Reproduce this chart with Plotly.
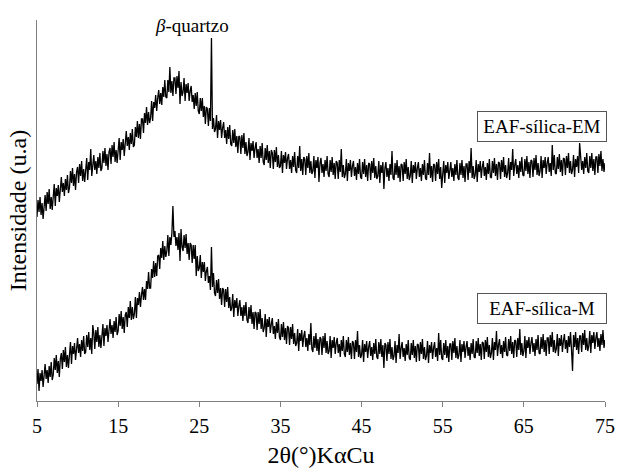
import plotly.graph_objects as go

# 2theta grid (degrees), step 0.125 from 5 to 75
two_theta = [5 + 0.125 * i for i in range(561)]

# EAF-sílica-EM (upper pattern), arbitrary intensity units; one row per degree
em_counts = [
    184, 201, 189, 204, 186, 198, 182, 200,   # 5
    206, 190, 209, 197, 212, 192, 204, 191,   # 6
    202, 217, 195, 213, 205, 216, 199, 210,   # 7
    224, 209, 218, 205, 222, 211, 226, 208,   # 8
    213, 230, 218, 233, 215, 227, 211, 229,   # 9
    234, 218, 237, 225, 240, 220, 232, 219,   # 10
    228, 243, 221, 239, 231, 252, 225, 236,   # 11
    246, 231, 240, 227, 244, 233, 248, 230,   # 12
    233, 250, 238, 253, 235, 247, 231, 249,   # 13
    253, 237, 256, 244, 259, 239, 251, 238,   # 14
    248, 263, 241, 259, 251, 262, 245, 256,   # 15
    270, 255, 264, 251, 268, 257, 272, 254,   # 16
    256, 274, 264, 280, 263, 277, 262, 282,   # 17
    282, 268, 288, 278, 294, 276, 289, 278,   # 18
    283, 300, 280, 299, 293, 306, 290, 303,   # 19
    311, 297, 308, 296, 314, 304, 321, 304,   # 20
    303, 321, 309, 334, 308, 320, 305, 323,   # 21
    323, 307, 325, 313, 330, 297, 319, 305,   # 22
    309, 323, 300, 317, 308, 318, 300, 310,   # 23
    315, 299, 306, 292, 308, 295, 309, 290,   # 24
    287, 303, 290, 303, 284, 295, 277, 294,   # 25
    292, 275, 293, 280, 363, 272, 283, 269,   # 26 (beta-quartz line)
    272, 286, 263, 280, 271, 281, 263, 273,   # 27
    279, 263, 271, 257, 274, 262, 276, 257,   # 28
    255, 271, 258, 272, 254, 265, 248, 265,   # 29
    264, 247, 266, 253, 268, 247, 259, 245,   # 30
    249, 263, 241, 258, 250, 260, 243, 253,   # 31
    259, 243, 252, 238, 255, 243, 258, 239,   # 32
    236, 253, 241, 256, 238, 250, 233, 251,   # 33
    248, 232, 251, 239, 254, 234, 246, 233,   # 34
    235, 250, 228, 246, 238, 249, 232, 243,   # 35
    247, 232, 241, 228, 245, 234, 249, 231,   # 36
    228, 245, 233, 255, 230, 242, 226, 244,   # 37
    242, 226, 245, 233, 248, 228, 240, 227,   # 38
    230, 245, 223, 241, 233, 244, 219, 238,   # 39
    243, 228, 237, 224, 241, 230, 245, 227,   # 40
    224, 241, 229, 244, 226, 238, 222, 240,   # 41
    238, 222, 241, 229, 252, 224, 236, 223,   # 42
    227, 242, 220, 238, 230, 241, 224, 235,   # 43
    240, 225, 234, 221, 238, 227, 242, 224,   # 44
    222, 239, 227, 242, 224, 236, 220, 238,   # 45
    237, 221, 240, 228, 243, 223, 235, 222,   # 46
    225, 240, 218, 236, 228, 239, 212, 233,   # 47
    239, 224, 233, 220, 237, 226, 250, 223,   # 48
    221, 238, 226, 241, 223, 235, 219, 237,   # 49
    236, 220, 239, 227, 242, 222, 234, 221,   # 50
    225, 240, 218, 236, 228, 239, 222, 233,   # 51
    239, 224, 233, 220, 237, 226, 241, 223,   # 52
    221, 238, 226, 248, 223, 235, 219, 237,   # 53
    236, 220, 239, 227, 242, 222, 234, 213,   # 54
    225, 240, 218, 236, 228, 239, 222, 233,   # 55
    239, 224, 233, 220, 237, 226, 241, 223,   # 56
    221, 238, 226, 241, 223, 235, 219, 237,   # 57
    237, 221, 240, 228, 253, 223, 235, 222,   # 58
    226, 241, 219, 237, 229, 240, 223, 234,   # 59
    240, 225, 234, 221, 238, 227, 242, 224,   # 60
    223, 240, 228, 243, 225, 237, 221, 239,   # 61
    238, 222, 241, 229, 244, 224, 236, 223,   # 62
    228, 243, 221, 239, 231, 252, 225, 236,   # 63
    242, 227, 236, 223, 240, 229, 244, 226,   # 64
    225, 242, 230, 245, 227, 239, 223, 241,   # 65
    240, 224, 243, 231, 246, 226, 238, 225,   # 66
    230, 245, 223, 241, 233, 244, 227, 238,   # 67
    244, 229, 238, 225, 256, 231, 246, 228,   # 68
    227, 244, 232, 247, 229, 241, 225, 243,   # 69
    242, 226, 245, 233, 248, 228, 240, 227,   # 70
    231, 246, 224, 242, 234, 245, 228, 258,   # 71
    246, 231, 240, 227, 244, 233, 248, 230,   # 72
    228, 245, 233, 248, 230, 242, 226, 244,   # 73
    244, 228, 247, 235, 250, 230, 242, 229,   # 74
    238,                                      # 75
]

# EAF-sílica-M (lower pattern), arbitrary intensity units; one row per degree
m_counts = [
    17, 32, 10, 28, 20, 31, 14, 25,           # 5
    37, 22, 31, 18, 35, 24, 39, 21,           # 6
    26, 43, 31, 46, 28, 40, 24, 42,           # 7
    48, 32, 51, 39, 54, 34, 46, 33,           # 8
    44, 59, 37, 55, 47, 58, 41, 52,           # 9
    63, 48, 57, 44, 61, 50, 65, 47,           # 10
    49, 66, 54, 69, 51, 63, 47, 76,           # 11
    68, 52, 71, 59, 74, 54, 66, 53,           # 12
    62, 77, 55, 73, 65, 76, 59, 70,           # 13
    82, 67, 76, 63, 80, 69, 84, 66,           # 14
    70, 87, 75, 90, 72, 84, 68, 86,           # 15
    89, 74, 94, 83, 100, 81, 94, 82,          # 16
    87, 104, 83, 103, 96, 109, 94, 106,       # 17
    114, 101, 112, 101, 120, 112, 129, 113,   # 18
    113, 132, 123, 140, 124, 138, 125, 145,   # 19
    146, 132, 153, 143, 160, 141, 155, 144,   # 20
    150, 166, 145, 164, 156, 168, 195, 164,   # 21
    170, 155, 164, 151, 168, 140, 172, 154,   # 22
    150, 166, 153, 167, 147, 158, 141, 158,   # 23
    156, 138, 156, 142, 156, 125, 145, 130,   # 24
    133, 146, 123, 139, 129, 139, 120, 130,   # 25
    134, 118, 125, 111, 154, 114, 128, 108,   # 26
    105, 121, 108, 122, 102, 113, 96, 113,    # 27
    111, 94, 112, 99, 114, 93, 104, 90,       # 28
    93, 107, 84, 101, 93, 103, 85, 95,        # 29
    101, 85, 94, 80, 96, 85, 99, 81,          # 30
    78, 94, 82, 96, 77, 89, 72, 89,           # 31
    88, 71, 89, 77, 92, 72, 83, 69,           # 32
    73, 87, 64, 82, 74, 84, 68, 77,           # 33
    83, 67, 75, 62, 79, 68, 82, 64,           # 34
    61, 77, 64, 79, 61, 73, 57, 75,           # 35
    73, 56, 74, 62, 77, 57, 68, 55,           # 36
    58, 72, 50, 68, 60, 71, 54, 65,           # 37
    70, 54, 63, 50, 67, 56, 78, 52,           # 38
    49, 65, 53, 68, 50, 62, 46, 64,           # 39
    62, 46, 65, 53, 68, 48, 60, 47,           # 40
    50, 65, 43, 61, 53, 64, 47, 58,           # 41
    63, 48, 57, 44, 61, 50, 65, 47,           # 42
    44, 61, 49, 64, 46, 58, 42, 60,           # 43
    58, 42, 61, 49, 70, 44, 56, 43,           # 44
    46, 61, 39, 57, 49, 60, 43, 54,           # 45
    60, 45, 54, 41, 58, 47, 62, 44,           # 46
    42, 59, 47, 62, 44, 56, 33, 58,           # 47
    56, 40, 59, 47, 62, 42, 54, 41,           # 48
    45, 60, 38, 56, 48, 67, 42, 53,           # 49
    59, 44, 53, 40, 57, 46, 61, 43,           # 50
    41, 58, 46, 61, 43, 55, 39, 57,           # 51
    56, 40, 59, 47, 62, 42, 54, 41,           # 52
    45, 60, 38, 56, 48, 59, 42, 53,           # 53
    59, 44, 53, 40, 68, 46, 61, 43,           # 54
    41, 58, 46, 61, 43, 55, 39, 57,           # 55
    57, 41, 60, 48, 63, 43, 55, 42,           # 56
    46, 61, 39, 57, 49, 60, 43, 54,           # 57
    60, 45, 54, 41, 58, 47, 62, 44,           # 58
    43, 60, 48, 63, 45, 57, 41, 59,           # 59
    58, 42, 61, 49, 64, 44, 56, 43,           # 60
    48, 63, 41, 59, 51, 70, 45, 56,           # 61
    62, 47, 56, 43, 60, 49, 64, 46,           # 62
    45, 62, 50, 65, 47, 59, 43, 61,           # 63
    60, 44, 63, 51, 72, 46, 58, 45,           # 64
    50, 65, 43, 61, 53, 64, 47, 58,           # 65
    64, 49, 58, 45, 62, 51, 66, 48,           # 66
    47, 64, 52, 67, 49, 61, 45, 63,           # 67
    63, 47, 66, 54, 69, 49, 61, 48,           # 68
    52, 67, 45, 63, 55, 66, 49, 60,           # 69
    67, 52, 61, 48, 65, 54, 69, 51,           # 70
    30, 66, 54, 69, 51, 63, 47, 65,           # 71
    65, 49, 68, 56, 71, 51, 63, 50,           # 72
    55, 70, 48, 66, 58, 69, 52, 63,           # 73
    69, 54, 63, 50, 67, 56, 71, 53,           # 74
    61,                                       # 75
]

x_ticks = [5, 15, 25, 35, 45, 55, 65, 75]
series_labels = ["EAF-sílica-EM", "EAF-sílica-M"]
peak_label = "<i>β</i>-quartzo"

FONT = "Liberation Serif"

fig = go.Figure()
fig.add_trace(go.Scatter(x=two_theta, y=em_counts, mode="lines",
                         line=dict(color="black", width=1.3), name=series_labels[0]))
fig.add_trace(go.Scatter(x=two_theta, y=m_counts, mode="lines",
                         line=dict(color="black", width=1.3), name=series_labels[1]))

fig.add_annotation(x=24.1, y=376, xref="x", yref="y", text=peak_label, showarrow=False,
                   font=dict(family=FONT, size=19, color="black"))
fig.add_annotation(x=67.2, y=275, xref="x", yref="y", text=series_labels[0], showarrow=False,
                   font=dict(family=FONT, size=19, color="black"),
                   bordercolor="#555555", borderwidth=1, borderpad=2, bgcolor="white",
                   width=124, height=25)
fig.add_annotation(x=67.2, y=93, xref="x", yref="y", text=series_labels[1], showarrow=False,
                   font=dict(family=FONT, size=19, color="black"),
                   bordercolor="#555555", borderwidth=1, borderpad=2, bgcolor="white",
                   width=124, height=25)

fig.update_layout(
    width=618, height=468,
    margin=dict(l=37, r=13, t=20, b=67),
    paper_bgcolor="white", plot_bgcolor="white",
    showlegend=False,
    font=dict(family=FONT, color="black"),
    xaxis=dict(range=[5, 75], tickvals=x_ticks, ticktext=[str(t) for t in x_ticks],
               automargin=False,
               showgrid=False, zeroline=False, showline=True, linecolor="#808080", linewidth=1,
               ticks="outside", ticklen=5, tickcolor="#808080",
               tickfont=dict(family=FONT, size=20, color="black"),
               ticklabelstandoff=2,
               title=dict(text="2θ(°)KαCu", font=dict(family=FONT, size=24, color="black"),
                          standoff=10)),
    yaxis=dict(range=[0, 381], showgrid=False, zeroline=False, showline=True,
               automargin=False,
               linecolor="#808080", linewidth=1, showticklabels=False, ticks="",
               title=dict(text="Intensidade (u.a)", font=dict(family=FONT, size=24, color="black"),
                          standoff=2)),
)

fig.write_html("out.html")
